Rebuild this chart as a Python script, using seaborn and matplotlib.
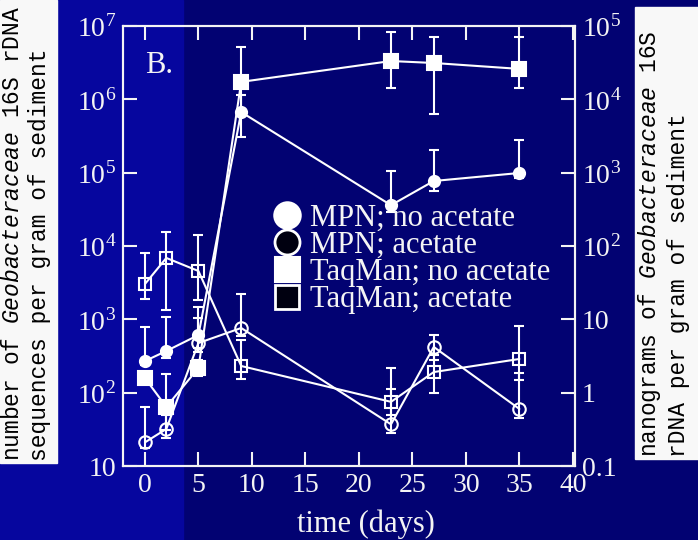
import matplotlib
matplotlib.use("Agg")
import matplotlib.pyplot as plt
import seaborn as sns
from matplotlib.patches import Rectangle
from matplotlib.lines import Line2D
from matplotlib.ticker import NullLocator

# ---------------- data ----------------
days = [0, 2, 5, 9, 23, 27, 35]

# MPN counts (sequences per gram, left axis)
mpn_no = [270, 370, 611, 6.7e5, 3.6e4, 7.7e4, 9.9e4]
mpn_no_hi = [787, 1076, 1473, 1.15e6, 1.05e5, 2.04e5, 2.79e5]
mpn_no_lo = [238, 297, 406, 3.07e5, 2.91e4, 5.62e4, 8.46e4]

mpn_ac = [21, 32, 475, 762, 37, 420, 60]
mpn_ac_hi = [64, 50, 1040, 2220, 112, 611, 185]
mpn_ac_lo = [17.6, 24, 359, 593, 28, 279, 45]

# TaqMan (nanograms per gram, right axis)
taq_no = [1.58, 0.64, 2.17, 1.73e4, 3.33e4, 3.13e4, 2.6e4]
taq_no_hi = [1.91, 1.80, 2.79, 5.18e4, 8.28e4, 7.08e4, 7.08e4]
taq_no_lo = [1.31, 0.31, 1.69, 6.12e3, 1.43e4, 6.31e3, 1.43e4]

taq_ac = [30.3, 68.7, 45.6, 2.31, 0.75, 1.91, 2.88]
taq_ac_hi = [80.4, 155, 141, 5.23, 2.17, 3.27, 8.11]
taq_ac_lo = [18.9, 13.4, 18.4, 1.54, 0.50, 0.99, 1.49]

x_ticks = [0, 5, 10, 15, 20, 25, 30, 35, 40]
left_ticks = [1e1, 1e2, 1e3, 1e4, 1e5, 1e6, 1e7]
left_labels = ["10", "$10^{2}$", "$10^{3}$", "$10^{4}$", "$10^{5}$", "$10^{6}$", "$10^{7}$"]
right_ticks = [0.1, 1, 10, 1e2, 1e3, 1e4, 1e5]
right_labels = ["0.1", "1", "10", "$10^{2}$", "$10^{3}$", "$10^{4}$", "$10^{5}$"]

legend_labels = ["MPN; no acetate", "MPN; acetate", "TaqMan; no acetate", "TaqMan; acetate"]
xlabel = "time (days)"
ylabel_left = "number of $\\mathit{Geobacteraceae}$ 16S rDNA\nsequences per gram of sediment"
ylabel_right = "nanograms of $\\mathit{Geobacteraceae}$ 16S\nrDNA per gram of sediment"

# ---------------- style ----------------
sns.set_style("ticks")
plt.rcParams['font.family'] = ['Liberation Serif', 'DejaVu Serif']
plt.rcParams['mathtext.fontset'] = 'custom'
plt.rcParams['mathtext.rm'] = 'Liberation Serif'
plt.rcParams['mathtext.it'] = 'Liberation Mono:italic'

NAVY = '#020272'
BLUE = '#06069E'
FG = '#F4F4F4'

W, H = 698, 540
fig = plt.figure(figsize=(W / 100, H / 100), dpi=100)
fig.patch.set_facecolor(NAVY)
fig.patches.append(Rectangle((0, 0), 183 / W, 1, transform=fig.transFigure,
                             color=BLUE, zorder=-10))
fig.patches.append(Rectangle((0, 1 - 463 / H), 57 / W, 463 / H, transform=fig.transFigure,
                             color='#F8F8F8', zorder=-5))
fig.patches.append(Rectangle((635 / W, 1 - 459 / H), 63 / W, 452 / H, transform=fig.transFigure,
                             color='#F8F8F8', zorder=-5))

ax = fig.add_axes([123 / W, (H - 466) / H, 452 / W, 440 / H])
ax.patch.set_alpha(0)
ax.set_yscale('log')
ax.set_xlim(-2.05, 40.2)
ax.set_ylim(10, 1e7)
ax2 = ax.twinx()
ax2.patch.set_alpha(0)
ax2.set_yscale('log')
ax2.set_ylim(0.1, 1e5)

lw = 1.5
eb = dict(fmt='none', ecolor='white', elinewidth=lw, capsize=3.5, capthick=lw, zorder=2)

# MPN on left axis
ax.errorbar(days, mpn_no, yerr=[[v - l for v, l in zip(mpn_no, mpn_no_lo)],
                                [h - v for v, h in zip(mpn_no, mpn_no_hi)]], **eb)
ax.errorbar(days, mpn_ac, yerr=[[v - l for v, l in zip(mpn_ac, mpn_ac_lo)],
                                [h - v for v, h in zip(mpn_ac, mpn_ac_hi)]], **eb)
sns.lineplot(x=days, y=mpn_no, ax=ax, color='white', lw=lw, marker='o', ms=8,
             mfc='white', mec='white', mew=lw, legend=False, zorder=3)
sns.lineplot(x=days, y=mpn_ac, ax=ax, color='white', lw=lw, marker='o', ms=9,
             mfc='none', mec='white', mew=lw, legend=False, zorder=3)

# TaqMan on right axis
ax2.errorbar(days, taq_no, yerr=[[v - l for v, l in zip(taq_no, taq_no_lo)],
                                 [h - v for v, h in zip(taq_no, taq_no_hi)]], **eb)
ax2.errorbar(days, taq_ac, yerr=[[v - l for v, l in zip(taq_ac, taq_ac_lo)],
                                 [h - v for v, h in zip(taq_ac, taq_ac_hi)]], **eb)
sns.lineplot(x=days, y=taq_no, ax=ax2, color='white', lw=lw, marker='s', ms=10,
             mfc='white', mec='white', mew=lw, legend=False, zorder=3)
sns.lineplot(x=days, y=taq_ac, ax=ax2, color='white', lw=lw, marker='s', ms=9,
             mfc='none', mec='white', mew=lw, legend=False, zorder=3)

# ticks & spines
ax.set_xticks(x_ticks)
ax.set_xticklabels([str(t) for t in x_ticks])
ax.set_yticks(left_ticks)
ax.set_yticklabels(left_labels)
ax.yaxis.set_minor_locator(NullLocator())
ax2.set_yticks(right_ticks)
ax2.set_yticklabels(right_labels)
ax2.yaxis.set_minor_locator(NullLocator())
ax.tick_params(axis='x', direction='in', top=True, length=10, width=lw, colors=FG,
               labelsize=20, pad=5)
ax.tick_params(axis='y', direction='in', length=10, width=lw, colors=FG, labelsize=20, pad=5)
ax2.tick_params(axis='y', direction='in', length=10, width=lw, colors=FG, labelsize=20, pad=5)
ax2.tick_params(axis='x', top=False, bottom=False)
for a in (ax, ax2):
    for s in a.spines.values():
        s.set_color(FG)
        s.set_linewidth(lw)
ax.set_ylabel("")
ax2.set_ylabel("")

ax.set_xlabel(xlabel, fontsize=22, color=FG)
ax.xaxis.label.set_va('baseline')
ax.xaxis.set_label_coords((366 - 123) / 452, (466 - 532) / 440)

ax.text((145 - 123) / 452, (466 - 73) / 440, "B.", transform=ax.transAxes,
        fontsize=22, color=FG, va='baseline', ha='left')

# legend
handles = [
    Line2D([], [], ls='none', marker='o', ms=19, mfc='white', mec='white', mew=1.5),
    Line2D([], [], ls='none', marker='o', ms=18, mfc='#000010', mec='white', mew=2),
    Line2D([], [], ls='none', marker='s', ms=18, mfc='white', mec='white', mew=1.5),
    Line2D([], [], ls='none', marker='s', ms=17, mfc='#000010', mec='white', mew=2),
]
leg = ax2.legend(handles, legend_labels, loc='center left',
                 bbox_to_anchor=(273 / W, 1 - 259 / H), bbox_transform=fig.transFigure,
                 frameon=False, fontsize=22, handlelength=0.9, handletextpad=0.3,
                 labelspacing=-0.06, borderpad=0, borderaxespad=0)
for t in leg.get_texts():
    t.set_color(FG)

# axis titles in white boxes
fig.text(1 / W, 1 - 461 / H, ylabel_left, rotation=90, rotation_mode='anchor',
         ha='left', va='top', fontsize=16.5, family='Liberation Mono', color='black',
         linespacing=1.2, multialignment='left')
fig.text(636 / W, 1 - 457 / H, ylabel_right, rotation=90, rotation_mode='anchor',
         ha='left', va='top', fontsize=16.5, family='Liberation Mono', color='black',
         linespacing=1.2, multialignment='left')

fig.savefig("out.png", dpi=100, facecolor=fig.get_facecolor())
